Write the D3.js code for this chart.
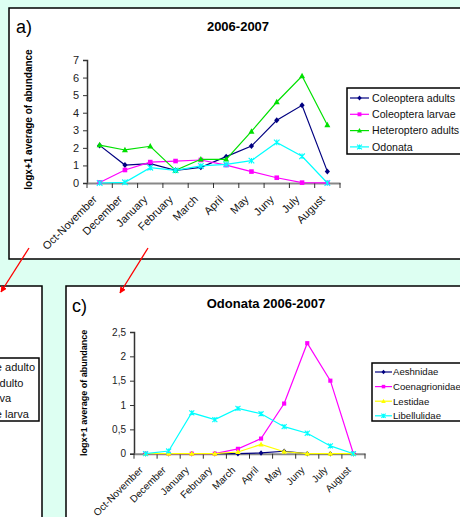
<!DOCTYPE html>
<html>
<head>
<meta charset="utf-8">
<script src="https://cdn.jsdelivr.net/npm/d3@7"></script>
<style>
  body { margin: 0; background: #ddfff2; }
  svg { display: block; font-family: "Liberation Sans", Arial, sans-serif; }
</style>
</head>
<body>
<svg width="460" height="517"></svg>
<script>
// months (tick labels) shared by both charts
var months = ["Oct-November", "December", "January", "February", "March",
              "April", "May", "Juny", "July", "August"];

// chart a) 2006-2007
var coleopteraAdults = [2.14, 1.02, 1.1, 0.72, 0.89, 1.5, 2.1, 3.57, 4.42, 0.66];
var coleopteraLarvae = [0.03, 0.74, 1.19, 1.25, 1.31, 1.02, 0.65, 0.3, 0.02, 0.01];
var heteropteroAdults = [2.16, 1.88, 2.09, 0.72, 1.35, 1.35, 2.94, 4.61, 6.09, 3.3];
var odonata = [0, 0.04, 0.87, 0.72, 0.97, 1.06, 1.27, 2.31, 1.52, 0];
var ticksA = [0, 1, 2, 3, 4, 5, 6, 7];

// chart c) Odonata 2006-2007
var aeshnidae = [0, 0, 0, 0, 0, 0.015, 0.05, 0, 0, 0];
var coenagrionidae = [0, 0, 0, 0, 0.1, 0.31, 1.03, 2.27, 1.5, 0];
var lestidae = [0, 0, 0, 0, 0.035, 0.19, 0.04, 0, 0, 0];
var libellulidae = [0, 0.055, 0.84, 0.70, 0.93, 0.82, 0.555, 0.42, 0.16, 0];
var ticksC = [0, 0.5, 1, 1.5, 2, 2.5];

// chart b) only its legend shows at the left edge
var legendB = ["Coleoptere adulto", "Odonata adulto", "Odonat larva", "Coleoptere larva"];

var svg = d3.select("svg");

// panel frames
svg.append("rect").attr("x", 9).attr("y", 8).attr("width", 470).attr("height", 251)
   .attr("fill", "#fff").attr("stroke", "#000").attr("stroke-width", 1.5);
svg.append("rect").attr("x", -5).attr("y", 286).attr("width", 47).attr("height", 250)
   .attr("fill", "#fff").attr("stroke", "#000").attr("stroke-width", 1.5);
svg.append("rect").attr("x", 66).attr("y", 286).attr("width", 420).attr("height", 250)
   .attr("fill", "#fff").attr("stroke", "#000").attr("stroke-width", 1.5);

// small excel-like markers
function marker(g, shape, color, k) {
    if (shape == "diamond") {
        g.append("path").attr("d", `M0,${-3 * k}L${2.6 * k},0L0,${3 * k}L${-2.6 * k},0Z`)
         .attr("fill", color);
    } else if (shape == "square") {
        g.append("rect").attr("x", -2.3 * k).attr("y", -2.3 * k)
         .attr("width", 4.6 * k).attr("height", 4.6 * k).attr("fill", color);
    } else if (shape == "triangle") {
        g.append("path").attr("d", `M0,${-3.2 * k}L${3 * k},${2.3 * k}L${-3 * k},${2.3 * k}Z`)
         .attr("fill", color);
    } else {
        var h = 2.8 * k;
        g.append("path").attr("d", `M${-h},${-h}L${h},${h}M${-h},${h}L${h},${-h}M0,${-h}L0,${h}`)
         .attr("stroke", color).attr("stroke-width", 1.1).attr("fill", "none");
    }
}

function drawChart(opt) {
    var x = d3.scaleBand().domain(months).range([opt.left, opt.right]).padding(0);
    var y = d3.scaleLinear().domain(opt.domain).range([opt.bottom, opt.top]);
    var g = svg.append("g");

    // y axis
    var yAxis = g.append("g")
        .attr("transform", `translate(${opt.left},0)`)
        .call(d3.axisLeft(y).tickValues(opt.ticks).tickSize(4).tickPadding(4)
              .tickFormat(function(d) { return String(d).replace(".", ","); }));
    yAxis.select(".domain").attr("stroke", "#333").attr("stroke-width", 1.5);
    yAxis.selectAll(".tick line").attr("stroke", "#333");
    yAxis.selectAll("text").attr("font-size", opt.tickFont).attr("fill", "#222")
         .attr("font-family", "Liberation Sans, Arial");

    // x axis with ticks between categories
    var xAxis = g.append("g")
        .attr("transform", `translate(0,${opt.bottom})`)
        .call(d3.axisBottom(x).tickSize(0).tickFormat(""));
    xAxis.select(".domain").attr("stroke", "#888").attr("stroke-width", 2);
    var bounds = months.map(function(m) { return x(m); }).concat([opt.right]);
    g.selectAll(".xtick").data(bounds).enter().append("line")
        .attr("x1", function(d) { return d; }).attr("x2", function(d) { return d; })
        .attr("y1", opt.bottom).attr("y2", opt.bottom + 5)
        .attr("stroke", "#333").attr("stroke-width", 1);
    g.selectAll(".xlab").data(months).enter().append("text")
        .attr("transform", function(d) {
            return `translate(${x(d) + x.bandwidth() / 2 - 2},${opt.bottom + 17}) rotate(-45)`;
        })
        .attr("text-anchor", "end")
        .attr("font-size", opt.labelFont)
        .attr("fill", "#111")
        .text(function(d) { return d; });

    // series
    var line = d3.line()
        .x(function(d, i) { return x(months[i]) + x.bandwidth() / 2; })
        .y(function(d) { return y(d); });
    opt.series.forEach(function(s) {
        g.append("path").datum(s.values)
            .attr("d", line).attr("fill", "none")
            .attr("stroke", s.color).attr("stroke-width", 1.2);
        s.values.forEach(function(v, i) {
            var m = g.append("g")
                .attr("transform", `translate(${x(months[i]) + x.bandwidth() / 2},${y(v)})`);
            marker(m, s.shape, s.color, opt.markSize);
        });
    });

    // titles
    g.append("text").attr("x", opt.titleX).attr("y", opt.titleY)
        .attr("text-anchor", "middle").attr("font-weight", "bold")
        .attr("font-size", 13).text(opt.title);
    g.append("text").attr("x", opt.tagX).attr("y", opt.tagY)
        .attr("font-size", 18).text(opt.tag);
    g.append("text")
        .attr("transform", `translate(${opt.yTitleX},${(opt.top + opt.bottom) / 2 + opt.yTitleShift}) rotate(-90)`)
        .attr("text-anchor", "middle").attr("font-weight", "bold")
        .attr("font-size", opt.yTitleFont)
        .text("logx+1 average of abundance");

    // legend
    var lg = g.append("g").attr("transform", `translate(${opt.legX},${opt.legY})`);
    lg.append("rect").attr("x", 0).attr("y", 0).attr("width", 140).attr("height", opt.legH)
        .attr("fill", "#fff").attr("stroke", "#000").attr("stroke-width", 1.5);
    opt.series.forEach(function(s, i) {
        var yy = opt.legFirst + i * opt.legStep;
        lg.append("line").attr("x1", 3).attr("x2", 3 + opt.legLine)
            .attr("y1", yy).attr("y2", yy).attr("stroke", s.color).attr("stroke-width", 1.2);
        var m = lg.append("g").attr("transform", `translate(${3 + opt.legLine / 2},${yy})`);
        marker(m, s.shape, s.color, opt.markSize * 0.85);
        lg.append("text").attr("x", opt.legText).attr("y", yy).attr("dy", "0.35em")
            .attr("font-size", opt.legFont).attr("fill", "#111").text(s.name);
    });
}

drawChart({
    left: 87, right: 340, top: 60, bottom: 183, domain: [0, 7], ticks: ticksA,
    tickFont: 11, labelFont: 11, markSize: 1,
    title: "2006-2007", titleX: 238, titleY: 31, tag: "a)", tagX: 16, tagY: 33,
    yTitleX: 31.5, yTitleShift: -2, yTitleFont: 10,
    legX: 347, legY: 88, legH: 66, legFirst: 10, legStep: 16.3, legLine: 19,
    legText: 25, legFont: 10.6,
    series: [
        {name: "Coleoptera adults", values: coleopteraAdults, color: "#000080", shape: "diamond"},
        {name: "Coleoptera larvae", values: coleopteraLarvae, color: "#ff00ff", shape: "square"},
        {name: "Heteroptero adults", values: heteropteroAdults, color: "#00e000", shape: "triangle"},
        {name: "Odonata", values: odonata, color: "#00ffff", shape: "x"}
    ]
});

drawChart({
    left: 134, right: 365, top: 332, bottom: 453.7, domain: [0, 2.5], ticks: ticksC,
    tickFont: 10, labelFont: 10, markSize: 0.9,
    title: "Odonata 2006-2007", titleX: 266, titleY: 308, tag: "c)", tagX: 72, tagY: 312,
    yTitleX: 86.5, yTitleShift: 0, yTitleFont: 9,
    legX: 372, legY: 363, legH: 58, legFirst: 9, legStep: 14.6, legLine: 17,
    legText: 21, legFont: 9.6,
    series: [
        {name: "Aeshnidae", values: aeshnidae, color: "#000080", shape: "diamond"},
        {name: "Coenagrionidae", values: coenagrionidae, color: "#ff00ff", shape: "square"},
        {name: "Lestidae", values: lestidae, color: "#ffff00", shape: "triangle"},
        {name: "Libellulidae", values: libellulidae, color: "#00ffff", shape: "x"}
    ]
});

// legend of chart b, cut by the left edge of the window
var lgB = svg.append("g");
lgB.append("rect").attr("x", -60).attr("y", 358).attr("width", 99).attr("height", 63)
   .attr("fill", "#fff").attr("stroke", "#000").attr("stroke-width", 1.5);
var texB = lgB.selectAll(".lb").data(legendB).enter().append("text")
   .attr("y", function(d, i) { return 367 + i * 15.7; })
   .attr("dy", "0.35em").attr("font-size", 11).attr("fill", "#111")
   .text(function(d) { return d; });
var startB = 35 - texB.node().getComputedTextLength();
texB.attr("x", startB);

// red arrows linking panel a to panels b and c
svg.append("defs").append("marker")
   .attr("id", "arr").attr("viewBox", "0 0 10 10").attr("refX", 9).attr("refY", 5)
   .attr("markerWidth", 5).attr("markerHeight", 5).attr("orient", "auto")
   .append("path").attr("d", "M0,0L10,5L0,10z").attr("fill", "#ff0000");
var arrows = [[29, 248, 1, 292], [148, 248, 120, 293]];
svg.selectAll(".arrow").data(arrows).enter().append("line")
   .attr("x1", function(d) { return d[0]; }).attr("y1", function(d) { return d[1]; })
   .attr("x2", function(d) { return d[2]; }).attr("y2", function(d) { return d[3]; })
   .attr("stroke", "#ff0000").attr("stroke-width", 1.3)
   .attr("marker-end", "url(#arr)");
</script>
</body>
</html>
